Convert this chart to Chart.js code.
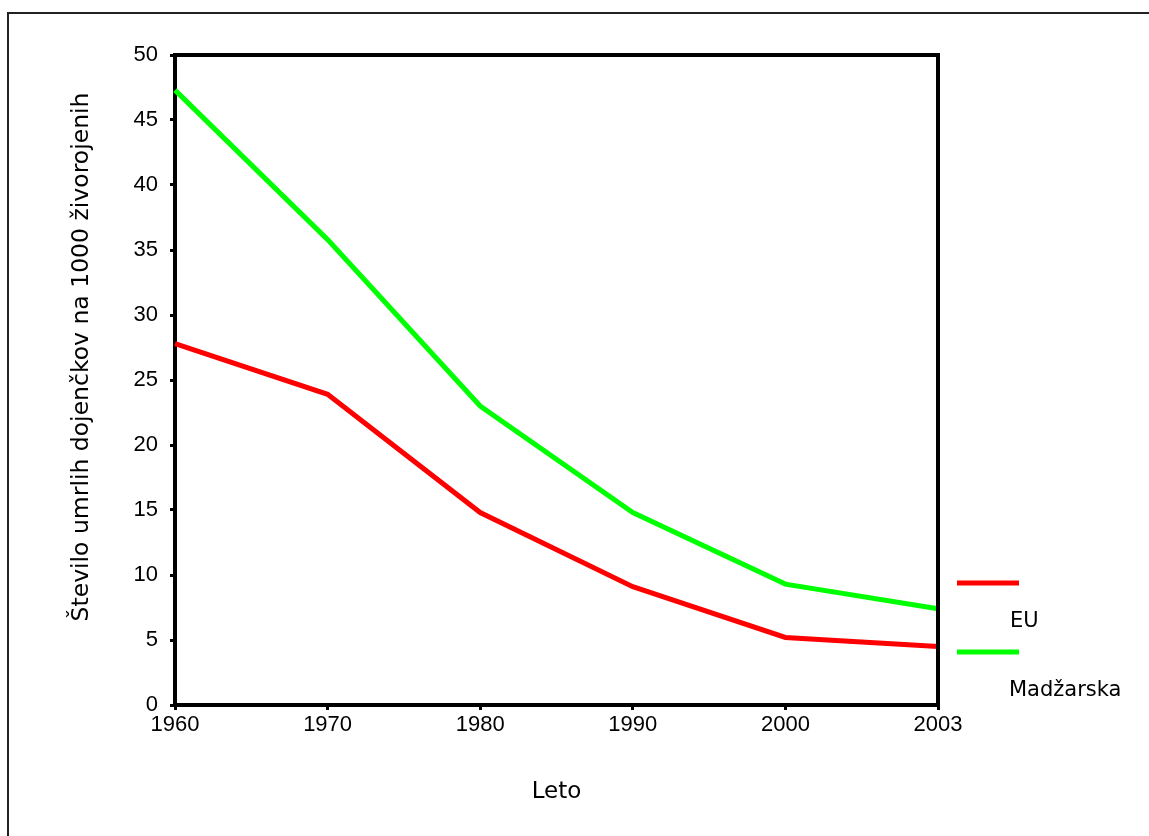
<!DOCTYPE html>
<html>
<head>
<meta charset="utf-8">
<script src="https://cdn.jsdelivr.net/npm/chart.js@4/dist/chart.umd.min.js"></script>
<style>
  html, body { margin: 0; padding: 0; background: #fff; }
  #wrap { position: relative; width: 1149px; height: 836px; overflow: hidden; }
  #frame { position: absolute; left: 7px; top: 12px; width: 1200px; height: 900px;
           border-top: 2px solid #222; border-left: 2px solid #222; }
  canvas { position: absolute; left: 0; top: 0; }
</style>
</head>
<body>
<div id="wrap">
  <div id="frame"></div>
  <canvas id="chart" width="1149" height="836"></canvas>
</div>
<script>
const years = ['1960', '1970', '1980', '1990', '2000', '2003'];
const euValues = [27.8, 23.9, 14.8, 9.1, 5.2, 4.5];
const huValues = [47.3, 35.8, 23.0, 14.8, 9.3, 7.4];
const seriesNames = ['EU', 'Madžarska'];
const seriesColors = ['#ff0000', '#00ff00'];
const yTitle = 'Število umrlih dojenčkov na 1000 živorojenih';

const tickFont = "'Liberation Sans', Arial, sans-serif";
const titleFont = "'DejaVu Sans', Verdana, sans-serif";

// frame around the plot area (top + right sides)
const boxPlugin = {
    id: 'box',
    afterDatasetsDraw(chart){
        const a = chart.chartArea;
        const ctx = chart.ctx;
        ctx.save();
        ctx.strokeStyle = '#000';
        ctx.lineWidth = 4;
        ctx.beginPath();
        ctx.moveTo(a.left, a.top);
        ctx.lineTo(a.right, a.top);
        ctx.lineTo(a.right, a.bottom);
        ctx.stroke();
        ctx.restore();
    }
};

// y title sits a bit above the axis middle in the original
const yTitlePlugin = {
    id: 'yTitle',
    afterDraw(chart){
        const ctx = chart.ctx;
        const a = chart.chartArea;
        ctx.save();
        ctx.translate(82, (a.top + a.bottom) / 2 - 23);
        ctx.rotate(-Math.PI / 2);
        ctx.fillStyle = '#000';
        ctx.font = "23.5px " + titleFont;
        ctx.textAlign = 'center';
        ctx.textBaseline = 'middle';
        ctx.fillText(yTitle, 0, 0);
        ctx.restore();
    }
};

// legend to the right of the plot: line, then label below it
const sideLegend = {
    id: 'sideLegend',
    afterDraw(chart){
        const ctx = chart.ctx;
        const a = chart.chartArea;
        ctx.save();
        chart.data.datasets.forEach((ds, i) => {
            const y = 583 + i * 69;
            ctx.strokeStyle = ds.borderColor;
            ctx.lineWidth = 5;
            ctx.beginPath();
            ctx.moveTo(a.right + 19, y);
            ctx.lineTo(a.right + 81, y);
            ctx.stroke();
            ctx.fillStyle = '#000';
            ctx.font = "21px " + titleFont;
            ctx.textBaseline = 'middle';
            ctx.fillText(ds.label, a.right + (i === 0 ? 72 : 71), y + 39);
        });
        ctx.restore();
    }
};

new Chart(document.getElementById('chart'), {
    type: 'line',
    data: {
        labels: years,
        datasets: [
            {
                label: seriesNames[0],
                data: euValues,
                borderColor: seriesColors[0],
                borderWidth: 5,
                pointRadius: 0,
                tension: 0
            },
            {
                label: seriesNames[1],
                data: huValues,
                borderColor: seriesColors[1],
                borderWidth: 5,
                pointRadius: 0,
                tension: 0
            }
        ]
    },
    options: {
        responsive: false,
        animation: false,
        layout: {
            padding: { left: 68, top: 55, right: 211, bottom: 30 }
        },
        plugins: {
            legend: { display: false },
            tooltip: { enabled: false }
        },
        scales: {
            x: {
                offset: false,
                grid: {
                    drawOnChartArea: false,
                    drawTicks: true,
                    tickLength: 5,
                    color: '#000',
                    lineWidth: 3
                },
                border: { color: '#000', width: 4 },
                ticks: {
                    color: '#000',
                    font: { family: tickFont, size: 22 },
                    padding: 2,
                    maxRotation: 0,
                    autoSkip: false
                },
                title: {
                    display: true,
                    text: 'Leto',
                    color: '#000',
                    font: { family: titleFont, size: 23 },
                    padding: 0
                },
                afterFit(scale){ scale.height = 101; }
            },
            y: {
                min: 0,
                max: 50,
                grid: {
                    drawOnChartArea: false,
                    drawTicks: true,
                    tickLength: 5,
                    color: '#000',
                    lineWidth: 3
                },
                border: { color: '#000', width: 4 },
                ticks: {
                    stepSize: 5,
                    color: '#000',
                    font: { family: tickFont, size: 22 },
                    padding: 12
                },
                afterFit(scale){ scale.width = 107; }
            }
        }
    },
    plugins: [boxPlugin, yTitlePlugin, sideLegend]
});
</script>
</body>
</html>
